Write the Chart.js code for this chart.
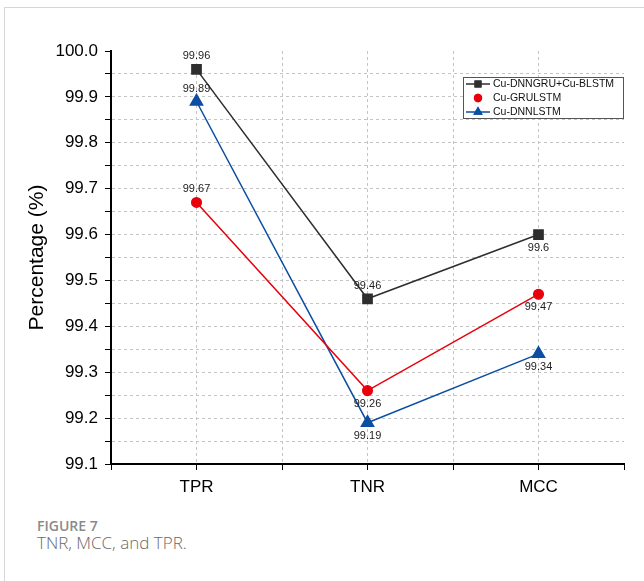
<!DOCTYPE html>
<html>
<head>
<meta charset="utf-8">
<script src="https://cdn.jsdelivr.net/npm/chart.js@4.4.0/dist/chart.umd.min.js"></script>
<style>
  html, body { margin: 0; padding: 0; background: #fff; }
  body { width: 644px; height: 581px; position: relative; overflow: hidden; }
  #frame { position: absolute; left: 4px; top: 7px; width: 700px; height: 600px;
           border-left: 1px solid #d6d6d6; border-top: 1px solid #d6d6d6; }
  #chart { position: absolute; left: 0; top: 0; }
  #fig { position: absolute; left: 37px; top: 516px; font-family: 'Open Sans', sans-serif;
         font-weight: 600; font-size: 14px; color: #8a8a8a; }
  #cap { position: absolute; left: 37px; top: 531px; font-family: 'Open Sans', sans-serif;
         font-weight: 300; font-size: 17px; color: #6a6a6a; }
</style>
</head>
<body>
<div id="frame"></div>
<canvas id="chart" width="644" height="500"></canvas>
<div id="fig">FIGURE 7</div>
<div id="cap">TNR, MCC, and TPR.</div>
<script>
// values
var categories = ["TPR", "TNR", "MCC"];
var seriesNames = ["Cu-DNNGRU+Cu-BLSTM", "Cu-GRULSTM", "Cu-DNNLSTM"];
var dnngruBlstm = [99.96, 99.46, 99.6];
var grulstm = [99.67, 99.26, 99.47];
var dnnlstm = [99.89, 99.19, 99.34];
var yMin = 99.1, yMax = 100.0, yStep = 0.05;

function pts(vals) {
  return vals.map(function (v, i) { return { x: i + 1, y: v }; });
}

var GRID = '#c4c4c4';

// value labels + legend box drawn inside the plot
var annotate = {
  id: 'annotate',
  afterDatasetsDraw: function (chart) {
    var ctx = chart.ctx;
    ctx.save();
    ctx.font = '11px "Liberation Sans", Arial, sans-serif';
    ctx.fillStyle = '#222';
    ctx.textAlign = 'center';
    ctx.textBaseline = 'middle';
    chart.data.datasets.forEach(function (ds, di) {
      chart.getDatasetMeta(di).data.forEach(function (el, i) {
        var above = ds.labelAbove[i];
        ctx.fillText(String(ds.data[i].y), el.x, above ? el.y - 13 : el.y + 13);
      });
    });

    // legend
    var bx = 463, by = 77, bw = 160, bh = 41;
    ctx.fillStyle = '#fff';
    ctx.fillRect(bx, by, bw, bh);
    ctx.strokeStyle = '#555';
    ctx.lineWidth = 1;
    ctx.strokeRect(bx + 0.5, by + 0.5, bw, bh);
    ctx.textAlign = 'left';
    ctx.font = '10.5px "Liberation Sans", Arial, sans-serif';
    chart.data.datasets.forEach(function (ds, di) {
      var y = by + 7 + di * 14;
      if (ds.legendLine) {
        ctx.strokeStyle = ds.borderColor;
        ctx.lineWidth = 1.5;
        ctx.beginPath();
        ctx.moveTo(bx + 3, y);
        ctx.lineTo(bx + 27, y);
        ctx.stroke();
      }
      ctx.fillStyle = ds.borderColor;
      Chart.helpers.drawPoint(ctx, {
        pointStyle: ds.pointStyle, radius: ds.legendRadius, rotation: 0, borderWidth: 0
      }, bx + 15, y);
      ctx.fill();
      ctx.fillStyle = '#111';
      ctx.fillText(ds.label, bx + 30, y + 0.5);
    });
    ctx.restore();
  }
};

new Chart(document.getElementById('chart'), {
  type: 'line',
  data: {
    datasets: [
      {
        label: seriesNames[0], data: pts(dnngruBlstm),
        borderColor: '#2e2e2e', backgroundColor: '#2e2e2e', borderWidth: 1.5,
        pointStyle: 'rect', pointRadius: 6.5, legendRadius: 5, legendLine: true,
        labelAbove: [true, true, false]
      },
      {
        label: seriesNames[1], data: pts(grulstm),
        borderColor: '#e8000b', backgroundColor: '#e8000b', borderWidth: 1.5,
        pointStyle: 'circle', pointRadius: 4.8, legendRadius: 4.2, legendLine: false,
        labelAbove: [true, false, false]
      },
      {
        label: seriesNames[2], data: pts(dnnlstm),
        borderColor: '#0b4ea2', backgroundColor: '#0b4ea2', borderWidth: 1.5,
        pointStyle: 'triangle', pointRadius: 7, legendRadius: 5.5, legendLine: true,
        labelAbove: [true, false, false]
      }
    ]
  },
  options: {
    responsive: false,
    animation: false,
    devicePixelRatio: 1,
    layout: { padding: { left: 0, right: 20, top: 51, bottom: 0 } },
    plugins: { legend: { display: false }, tooltip: { enabled: false } },
    scales: {
      x: {
        type: 'linear', min: 0.5, max: 3.5,
        afterFit: function (s) { s.height = 36; },
        ticks: {
          stepSize: 0.5, autoSkip: false, maxRotation: 0, padding: 7,
          color: '#000', font: { family: '"Liberation Sans", Arial, sans-serif', size: 17 },
          callback: function (v) { return Number.isInteger(v) ? categories[v - 1] : ''; }
        },
        grid: {
          color: function (c) {
            var v = c.tick && c.tick.value;
            return (v === 0.5 || v === 3.5) ? 'rgba(0,0,0,0)' : GRID;
          },
          tickColor: '#000', tickLength: 6, lineWidth: 1
        },
        border: { color: '#000', width: 2, dash: [3, 3] }
      },
      y: {
        min: yMin, max: yMax,
        afterFit: function (s) { s.width = 111; },
        title: {
          display: true, text: 'Percentage (%)', color: '#000',
          font: { family: '"Liberation Sans", Arial, sans-serif', size: 21 },
          padding: { top: 25, bottom: 0 }
        },
        ticks: {
          stepSize: yStep, autoSkip: false, padding: 7,
          color: '#000', font: { family: '"Liberation Sans", Arial, sans-serif', size: 17 },
          callback: function (v) {
            return Math.round(v * 100) % 10 === 0 ? v.toFixed(1) : '';
          }
        },
        grid: {
          color: function (c) {
            var v = c.tick && c.tick.value;
            return (Math.abs(v - yMax) < 1e-6 || Math.abs(v - yMin) < 1e-6) ? 'rgba(0,0,0,0)' : GRID;
          },
          tickColor: '#000', tickLength: 6, lineWidth: 1
        },
        border: { color: '#000', width: 2, dash: [3, 3] }
      }
    }
  },
  plugins: [annotate]
});
</script>
</body>
</html>
